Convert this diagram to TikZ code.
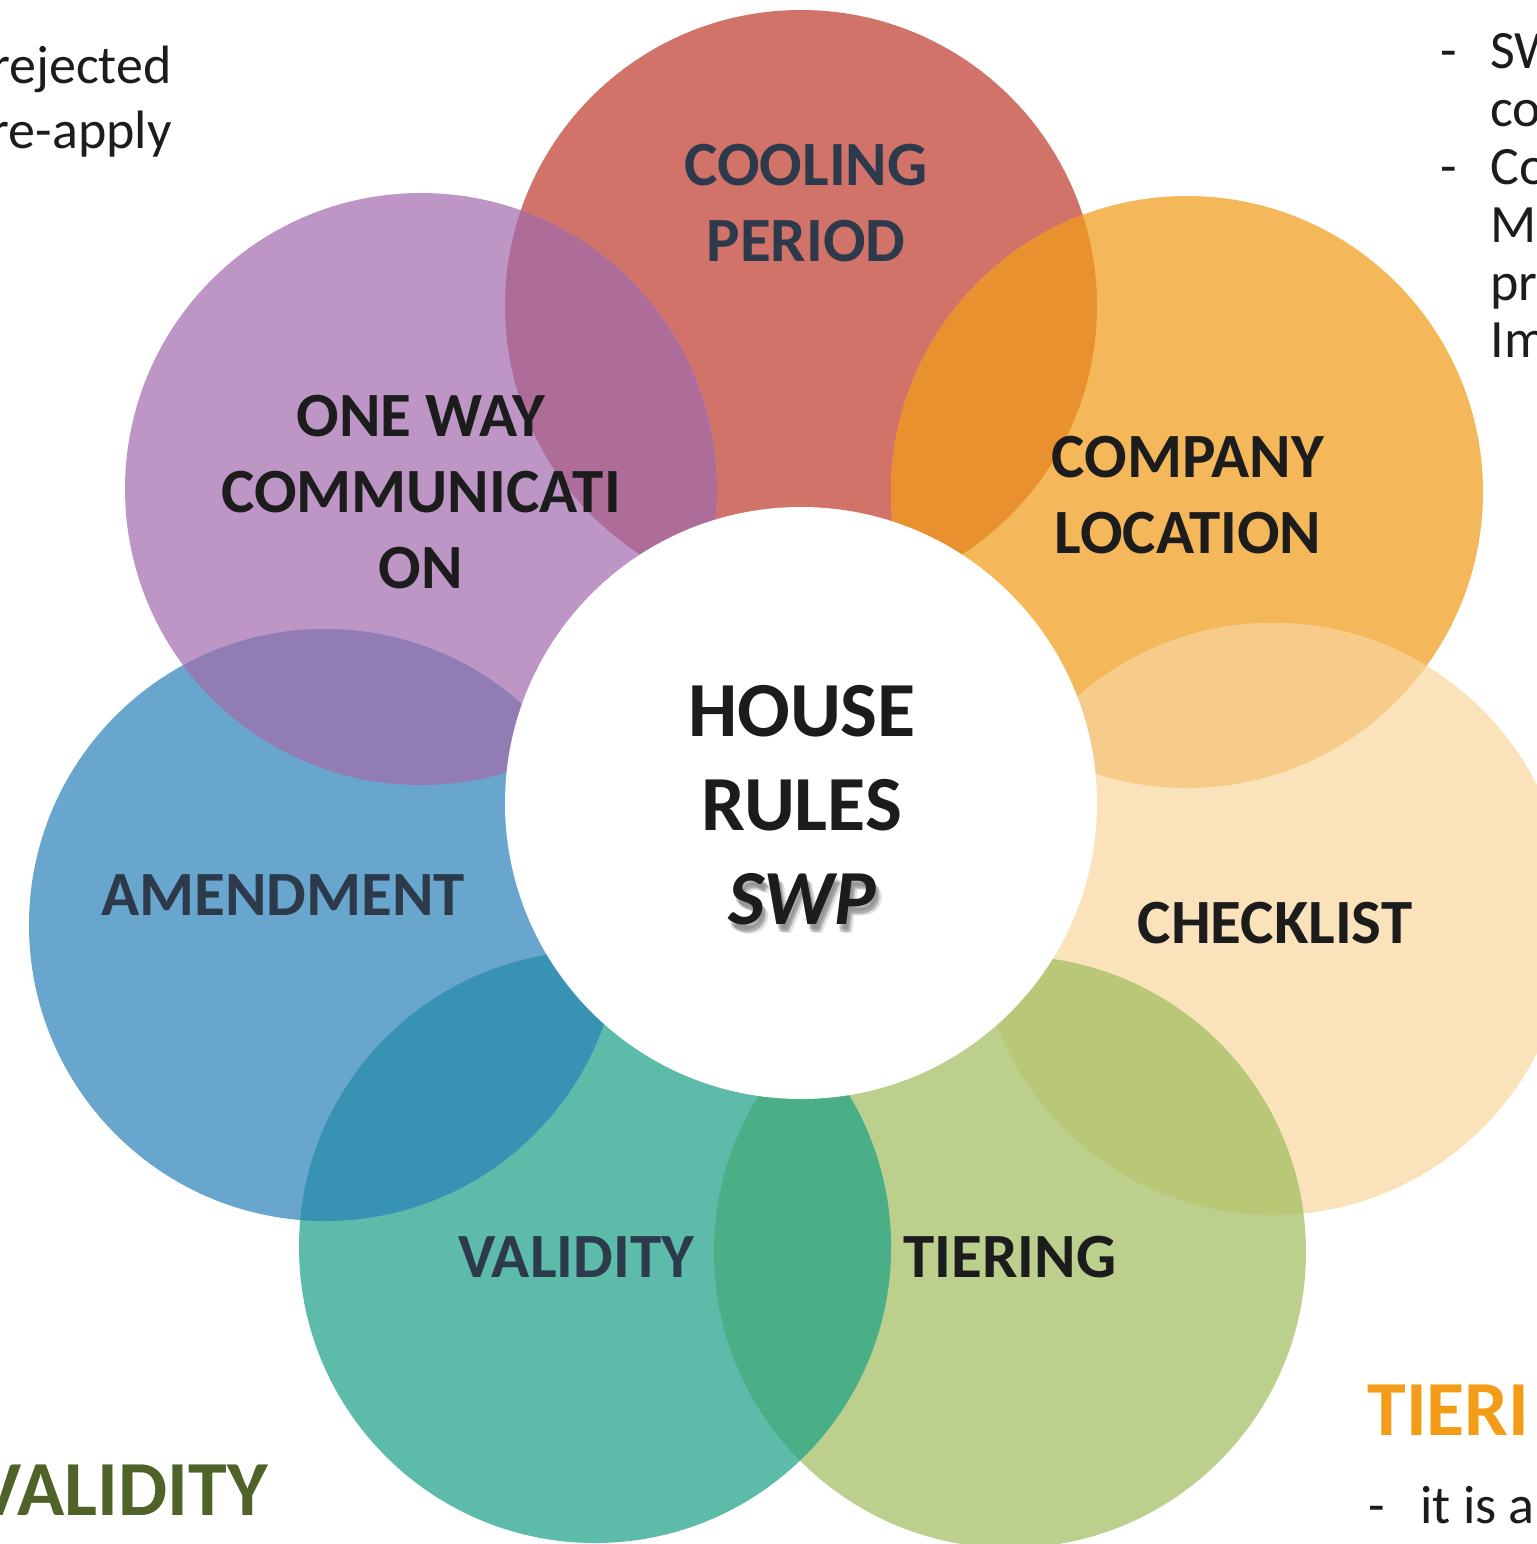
\documentclass[tikz,border=0pt]{standalone}
\usepackage{fontspec}
\setmainfont{Carlito}
\definecolor{cred}{HTML}{D27369}
\definecolor{cpur}{HTML}{BE96C5}
\definecolor{cora}{HTML}{F4B85A}
\definecolor{cpea}{HTML}{FAE3BB}
\definecolor{cgre}{HTML}{BCCF8D}
\definecolor{ctea}{HTML}{5DBBAA}
\definecolor{cblu}{HTML}{69A6CD}
\definecolor{xrp}{HTML}{AE6C99}
\definecolor{xro}{HTML}{E8912E}
\definecolor{xop}{HTML}{F7CC8A}
\definecolor{xpg}{HTML}{B9C877}
\definecolor{xgt}{HTML}{4AAF87}
\definecolor{xtb}{HTML}{3892B4}
\definecolor{xbp}{HTML}{927CB4}
\definecolor{slate}{HTML}{2C3A4B}
\definecolor{ink}{HTML}{1C1C1C}
\definecolor{tierorange}{HTML}{F39C18}
\definecolor{olive}{HTML}{4F6228}
\begin{document}
\begin{tikzpicture}[x=0.5pt,y=-0.5pt,
  petal/.style={font=\bfseries\fontsize{31.5}{38}\selectfont, align=center, inner sep=0pt},
  side/.style={font=\fontsize{27}{29}\selectfont, text=ink, inner sep=0pt},
  head/.style={font=\bfseries\fontsize{39}{47}\selectfont, inner sep=0pt},
  shade/.style={head, text=black, opacity=0.12, anchor=base}]
\useasboundingbox (0,0) rectangle (1537,1544);
\clip (0,0) rectangle (1537,1544);
\def\R{148pt}
\coordinate (cR) at (801,306);
\coordinate (cO) at (1187,492);
\coordinate (cK) at (1273,919);
\coordinate (cG) at (1010,1252);
\coordinate (cT) at (595,1247);
\coordinate (cB) at (325,925);
\coordinate (cP) at (421,489);
% petals
\fill[cred] (cR) circle[radius=\R];
\fill[cpur] (cP) circle[radius=\R];
\fill[cora] (cO) circle[radius=\R];
\fill[cpea] (cK) circle[radius=\R];
\fill[cgre] (cG) circle[radius=\R];
\fill[ctea] (cT) circle[radius=\R];
\fill[cblu] (cB) circle[radius=\R];
% overlaps
\begin{scope}\clip (cR) circle[radius=\R]; \fill[xrp] (cP) circle[radius=\R];\end{scope}
\begin{scope}\clip (cR) circle[radius=\R]; \fill[xro] (cO) circle[radius=\R];\end{scope}
\begin{scope}\clip (cO) circle[radius=\R]; \fill[xop] (cK) circle[radius=\R];\end{scope}
\begin{scope}\clip (cK) circle[radius=\R]; \fill[xpg] (cG) circle[radius=\R];\end{scope}
\begin{scope}\clip (cG) circle[radius=\R]; \fill[xgt] (cT) circle[radius=\R];\end{scope}
\begin{scope}\clip (cT) circle[radius=\R]; \fill[xtb] (cB) circle[radius=\R];\end{scope}
\begin{scope}\clip (cB) circle[radius=\R]; \fill[xbp] (cP) circle[radius=\R];\end{scope}
% centre
\node[circle, fill=white, minimum size=296pt, inner sep=0pt] (hub) at (801,803) {};
\node[shade] (sh1) at (804,929) {\itshape SWP};
\node[shade] (sh2) at (806,931) {\itshape SWP};
\node[shade] (sh3) at (808,933) {\itshape SWP};
\node[shade] (sh4) at (805,932) {\itshape SWP};
\node[head, align=center, text=ink] (hubtext) at (802,805) {HOUSE\\RULES\\\itshape SWP};
% petal labels
\node[petal, text=slate] (cooling) at (806,203) {COOLING\\PERIOD};
\node[petal, text=ink] (oneway) at (421,492) {ONE WAY\\COMMUNICATI\\ON};
\node[petal, text=ink] (company) at (1188,495) {COMPANY\\LOCATION};
\node[petal, text=ink, anchor=base] (checklist) at (1275,943) {CHECKLIST};
\node[petal, text=ink, anchor=base] (tiering) at (1010,1277) {TIERING};
\node[petal, text=slate, anchor=base] (validity) at (576,1277) {VALIDITY};
\node[petal, text=slate, anchor=base] (amend) at (283,915) {AMENDMENT};
% side texts
\node[side, anchor=base east] (rej) at (172,83) {rejected};
\node[side, anchor=base east] (reap) at (172,148) {re-apply};
\node[side, anchor=base west] (d1) at (1440,68) {-};
\node[side, anchor=base west] (l1) at (1490,68) {SW};
\node[side, anchor=base west] (l2) at (1490,126) {com};
\node[side, anchor=base west] (d2) at (1440,184) {-};
\node[side, anchor=base west] (l3) at (1490,184) {Co};
\node[side, anchor=base west] (l4) at (1490,242) {MI};
\node[side, anchor=base west] (l5) at (1490,300) {pro};
\node[side, anchor=base west] (l6) at (1490,357) {Im};
\node[font=\bfseries\fontsize{39}{47}\selectfont, text=tierorange, anchor=base west, inner sep=0pt] (tieri) at (1367,1435) {TIERI};
\node[side, anchor=base west] (d3) at (1368,1523) {-};
\node[side, anchor=base west] (l7) at (1420,1523) {it is a};
\node[font=\bfseries\fontsize{39}{47}\selectfont, text=olive, anchor=base east, inner sep=0pt] (val2) at (268,1515) {VALIDITY};
\end{tikzpicture}
\end{document}
